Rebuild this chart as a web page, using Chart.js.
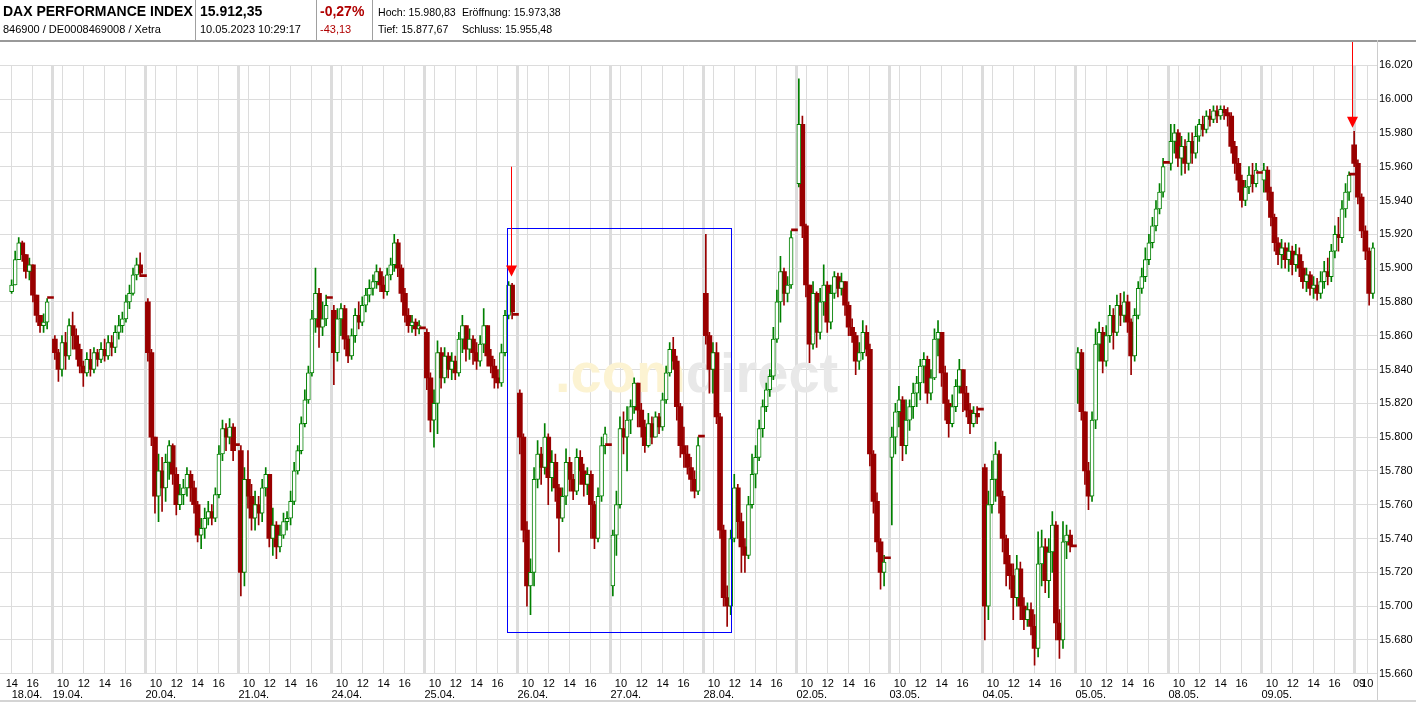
<!DOCTYPE html>
<html><head><meta charset="utf-8">
<script src="https://cdn.jsdelivr.net/npm/chart.js@4.4.0/dist/chart.umd.min.js"></script>
<style>
html,body{margin:0;padding:0;background:#fff;}
body{width:1416px;height:703px;position:relative;overflow:hidden;font-family:'Liberation Sans',Arial,sans-serif;}
#wrap{position:absolute;left:0;top:0;width:1416px;height:703px;}
.h{position:absolute;white-space:nowrap;color:#000;line-height:normal;}
.b{font-weight:bold;font-size:14px;}
.s{font-size:11px;}
.t{font-size:10.6px;}
.red{color:#b00000;}
.sep{position:absolute;top:0;width:1px;height:40px;background:#a0a0a0;}
</style></head><body>
<div id="wrap"><canvas id="c" width="1416" height="703"></canvas></div>
<div class="h b" style="left:3px;top:2.6px">DAX PERFORMANCE INDEX</div>
<div class="h s" style="left:3px;top:22.5px">846900 / DE0008469008 / Xetra</div>
<div class="sep" style="left:195px"></div>
<div class="h b" style="left:200px;top:2.6px">15.912,35</div>
<div class="h s" style="left:200px;top:22.5px">10.05.2023 10:29:17</div>
<div class="sep" style="left:316px"></div>
<div class="h b red" style="left:320px;top:2.6px">-0,27%</div>
<div class="h s red" style="left:320px;top:22.5px">-43,13</div>
<div class="sep" style="left:372px"></div>
<div class="h t" style="left:378px;top:5.6px">Hoch: 15.980,83</div>
<div class="h t" style="left:462px;top:5.6px">Eröffnung: 15.973,38</div>
<div class="h t" style="left:378px;top:22.8px">Tief: 15.877,67</div>
<div class="h t" style="left:462px;top:22.8px">Schluss: 15.955,48</div>
<script>
// ---------------- DATA ----------------
const dayLabels = ['18.04.','19.04.','20.04.','21.04.','24.04.','25.04.','26.04.','27.04.','28.04.','02.05.','03.05.','04.05.','05.05.','08.05.','09.05.','10.05.'];
const dayOpens  = [15886,15858,15880,15792,15875,15862,15826,15712,15885,15950,15788,15782,15840,15962,15952,15973];
const auctions  = [15882,15895,15795,15882,15864,15872,15795,15800,15922,15728,15816,15735,15962,15956,15955,null];
const firstSlot = [14,0,0,0,0,0,0,0,0,0,0,0,0,0,0,0];
const lastDayTimes = [9.12,9.37,9.62,9.87,10.12,10.37];

const closes = [
 [15890,15905,15915,15908,15898,15902,15884,15872,15866,15868,15880],
 [15850,15840,15856,15848,15866,15860,15852,15842,15838,15846,15840,15850,15846,15852,15848,15856,15853,15862,15866,15870,15880,15885,15896,15902,15897],
 [15850,15800,15765,15780,15770,15785,15795,15778,15760,15766,15770,15778,15770,15760,15742,15746,15752,15756,15752,15766,15790,15805,15800,15806,15792],
 [15720,15775,15765,15752,15760,15755,15770,15778,15740,15748,15735,15742,15750,15752,15762,15780,15792,15808,15822,15838,15870,15885,15865,15870,15878],
 [15850,15870,15876,15858,15848,15860,15872,15868,15878,15884,15888,15892,15898,15890,15886,15896,15902,15915,15900,15885,15872,15866,15868,15864,15866],
 [15835,15810,15820,15850,15835,15848,15840,15845,15838,15858,15866,15852,15858,15850,15845,15855,15866,15848,15842,15835,15832,15850,15872,15890,15874],
 [15800,15745,15712,15720,15775,15790,15782,15800,15776,15785,15770,15752,15765,15785,15775,15768,15788,15780,15772,15778,15760,15740,15765,15795,15802],
 [15742,15760,15805,15800,15810,15818,15832,15816,15806,15795,15808,15800,15812,15806,15822,15838,15852,15845,15818,15795,15790,15782,15775,15768,15795],
 [15860,15840,15850,15812,15745,15705,15700,15740,15770,15750,15735,15730,15760,15778,15788,15805,15818,15828,15836,15858,15880,15898,15885,15890,15918],
 [15985,15925,15890,15855,15885,15862,15880,15890,15868,15885,15895,15888,15892,15878,15865,15860,15845,15850,15862,15852,15790,15762,15738,15720,15726],
 [15800,15815,15822,15795,15810,15818,15826,15832,15842,15846,15826,15835,15858,15862,15838,15820,15808,15818,15830,15840,15826,15816,15808,15814,15812],
 [15700,15760,15775,15790,15765,15740,15725,15718,15705,15722,15700,15692,15698,15688,15675,15725,15735,15715,15732,15748,15690,15680,15738,15742,15736],
 [15850,15815,15780,15765,15810,15855,15862,15845,15860,15872,15862,15878,15872,15880,15868,15848,15872,15888,15895,15905,15915,15925,15935,15945,15960],
 [15975,15980,15965,15972,15962,15975,15968,15978,15985,15982,15990,15988,15993,15990,15994,15992,15990,15972,15962,15952,15940,15948,15955,15950,15958],
 [15958,15945,15930,15915,15908,15912,15905,15910,15902,15908,15900,15892,15896,15888,15890,15885,15892,15898,15895,15910,15920,15918,15935,15945,15955],
 [15962,15942,15922,15910,15885,15912]
];
const highs = [
 [15893,15910,15918,15916,15906,15906,15895,15880,15872,15873,15882],
 [15860,15852,15860,15862,15870,15874,15864,15855,15845,15850,15852,15853,15852,15856,15858,15860,15860,15866,15872,15874,15884,15890,15900,15906,15909],
 [15882,15852,15800,15790,15788,15790,15798,15796,15782,15772,15775,15782,15780,15774,15762,15752,15758,15762,15760,15770,15795,15810,15808,15811,15808],
 [15795,15782,15792,15772,15768,15765,15775,15782,15778,15758,15750,15748,15755,15756,15768,15785,15795,15812,15828,15842,15875,15900,15888,15880,15884],
 [15878,15876,15879,15878,15860,15864,15876,15880,15883,15888,15893,15896,15902,15900,15895,15900,15906,15920,15917,15902,15888,15876,15872,15870,15869],
 [15864,15838,15828,15857,15853,15853,15850,15850,15848,15862,15872,15866,15864,15860,15856,15860,15876,15866,15852,15846,15840,15855,15875,15892,15891],
 [15828,15802,15750,15728,15782,15798,15794,15808,15802,15792,15790,15772,15770,15793,15788,15778,15793,15792,15784,15782,15780,15762,15770,15800,15806],
 [15745,15768,15812,15815,15818,15822,15835,15832,15820,15810,15814,15812,15815,15814,15826,15842,15856,15859,15848,15820,15806,15795,15788,15780,15800],
 [15920,15862,15856,15856,15814,15748,15712,15745,15778,15772,15755,15740,15765,15790,15795,15810,15822,15832,15840,15865,15887,15907,15900,15895,15922],
 [16012,15990,15926,15890,15892,15886,15888,15902,15892,15890,15898,15897,15897,15892,15880,15870,15862,15856,15869,15866,15855,15792,15767,15740,15730],
 [15806,15820,15830,15824,15822,15822,15832,15836,15846,15850,15848,15840,15864,15869,15862,15842,15822,15825,15834,15846,15840,15830,15820,15818,15818],
 [15784,15768,15786,15797,15792,15768,15742,15730,15725,15730,15726,15705,15702,15702,15695,15744,15745,15740,15740,15756,15750,15698,15750,15748,15745],
 [15853,15852,15815,15785,15815,15864,15868,15865,15866,15878,15876,15884,15885,15886,15884,15870,15876,15892,15900,15912,15920,15930,15940,15950,15965],
 [15985,15985,15982,15978,15976,15980,15980,15984,15988,15990,15993,15994,15996,15996,15996,15996,15995,15992,15975,15965,15955,15952,15960,15962,15962],
 [15962,15960,15948,15932,15918,15917,15915,15915,15913,15914,15912,15904,15900,15898,15895,15894,15898,15904,15906,15914,15925,15930,15940,15950,15957],
 [15981,15964,15944,15925,15912,15915]
];
const lows = [
 [15885,15890,15905,15904,15894,15893,15880,15868,15862,15862,15864],
 [15846,15833,15836,15840,15846,15852,15846,15838,15830,15836,15836,15838,15842,15844,15845,15846,15848,15850,15858,15862,15868,15876,15884,15893,15895],
 [15845,15795,15755,15750,15756,15762,15775,15772,15754,15757,15760,15765,15762,15755,15738,15734,15740,15748,15748,15750,15764,15786,15792,15796,15786],
 [15706,15712,15758,15745,15745,15748,15750,15765,15735,15730,15728,15732,15740,15745,15748,15760,15778,15790,15806,15820,15836,15862,15853,15860,15866],
 [15831,15845,15860,15852,15844,15846,15856,15864,15866,15874,15880,15884,15888,15886,15882,15884,15893,15898,15895,15880,15868,15862,15862,15860,15861],
 [15828,15803,15794,15802,15829,15832,15835,15834,15834,15836,15850,15845,15846,15843,15840,15842,15850,15842,15838,15829,15829,15830,15848,15870,15870],
 [15790,15738,15700,15695,15712,15770,15772,15778,15760,15768,15762,15732,15750,15760,15768,15763,15766,15772,15765,15766,15740,15734,15738,15762,15790],
 [15706,15730,15758,15790,15780,15802,15814,15806,15800,15791,15794,15796,15800,15802,15804,15820,15836,15840,15810,15788,15782,15778,15768,15764,15766],
 [15855,15826,15826,15808,15740,15700,15688,15695,15738,15740,15720,15720,15728,15758,15770,15786,15800,15815,15824,15834,15856,15868,15878,15880,15888],
 [15948,15918,15883,15844,15852,15853,15858,15872,15862,15864,15882,15883,15884,15872,15860,15856,15837,15840,15846,15848,15783,15755,15732,15710,15712],
 [15748,15790,15806,15786,15790,15804,15811,15818,15822,15832,15820,15822,15834,15848,15830,15810,15800,15806,15815,15826,15815,15812,15802,15806,15808],
 [15680,15692,15755,15762,15755,15732,15712,15710,15692,15700,15692,15686,15688,15683,15665,15670,15712,15708,15705,15720,15680,15669,15675,15728,15732],
 [15820,15810,15772,15757,15762,15805,15845,15838,15842,15856,15852,15860,15866,15868,15862,15837,15845,15870,15885,15892,15902,15912,15922,15932,15942],
 [15958,15968,15960,15955,15956,15958,15962,15965,15975,15978,15980,15984,15986,15986,15988,15988,15984,15968,15956,15945,15936,15937,15944,15945,15948],
 [15945,15940,15925,15910,15902,15900,15900,15898,15896,15898,15895,15888,15886,15884,15882,15881,15882,15888,15890,15892,15906,15910,15915,15930,15940],
 [15960,15938,15918,15905,15878,15882]
];
const hourMarks = [10,12,14,16];
const yTicksRange = [15660, 16020, 20];
// annotations (time / price coordinates)
const boxFrom = [5, 16.87], boxTo = [8, 11.66], boxPrice = [15924, 15684.5];
const arrow1 = [5, 17.31, 15960, 15895];   // day, hour, tail price, tip price
const arrow2 = [15, 9.0, 16035, 15983];

// ---------------- AXIS MAPPING (time -> axis units) ----------------
const DAY = 8.9, SLOT = 0.34, SLOT0 = 0.057, AUCTION_H = 17.71;
const LAST = 15, LAST_X0 = 133.3, LAST_SCALE = 1.435;
const X_MIN = 3.8757, X_MAX = 135.659;
function xAt(d, hour){ return d === LAST ? LAST_X0 + (hour-9)*LAST_SCALE : d*DAY + (hour-9); }

const wickRed=[], wickGreen=[], bodyRed=[], bodyGreen=[], auctionBars=[];
for (let d=0; d<dayLabels.length; d++){
  const cs=closes[d], hs=highs[d], ls=lows[d];
  let prev = dayOpens[d];
  for (let k=0;k<cs.length;k++){
    const slot = firstSlot[d]+k;
    const x = d===LAST ? xAt(d, lastDayTimes[k]) : xAt(d, 9+SLOT0+(slot+0.5)*SLOT);
    const o=prev, c=cs[k];
    const up = c>=o;
    const hi=Math.max(hs[k],o,c), lo=Math.min(ls[k],o,c);
    (up?wickGreen:wickRed).push({x, y:[lo,hi]});
    (up?bodyGreen:bodyRed).push({x, y:[Math.min(o,c),Math.max(o,c)]});
    prev=c;
  }
  if (auctions[d]!=null) auctionBars.push({x:xAt(d,AUCTION_H), y:[auctions[d],auctions[d]]});
}

// hour axis ticks
const hourTicks=[];
for (let d=0; d<LAST; d++){
  if (d>0) hourTicks.push({x:d*DAY,label:'',kind:'day'});
  for (const h of hourMarks){ const x=xAt(d,h); if (x>=X_MIN) hourTicks.push({x,label:String(h),kind:'hour'}); }
}
hourTicks.push({x:LAST*DAY,label:'',kind:'day'});
hourTicks.push({x:xAt(LAST,9.45),label:'09',kind:'label'});
hourTicks.push({x:xAt(LAST,10),label:'10',kind:'hour'});
// date axis ticks
const dateTicks=[{x:xAt(0,14),label:dayLabels[0]}];
for (let d=1; d<LAST; d++) dateTicks.push({x:d*DAY,label:dayLabels[d]});

const FONT = "'Liberation Sans', Arial, sans-serif";
const fmt = v => String(v).replace(/\B(?=(\d{3})+(?!\d))/g,'.');

const decor = {
  id:'decor',
  beforeDatasetsDraw(chart){
    const ctx=chart.ctx; ctx.save();
    ctx.font="bold 56px "+FONT; ctx.textBaseline='alphabetic';
    ctx.fillStyle='#fcf3d2'; ctx.fillText('.com',555,392);
    const w=ctx.measureText('.com').width;
    ctx.fillStyle='#e8e8e8'; ctx.fillText('direct',555+w,392);
    ctx.restore();
  },
  afterDatasetsDraw(chart){
    const ctx=chart.ctx, xs=chart.scales.x, ys=chart.scales.y;
    ctx.save();
    const x1=Math.round(xs.getPixelForValue(xAt(boxFrom[0],boxFrom[1])))+0.5;
    const x2=Math.round(xs.getPixelForValue(xAt(boxTo[0],boxTo[1])))+0.5;
    const y1=Math.round(ys.getPixelForValue(boxPrice[0]))+0.5;
    const y2=Math.round(ys.getPixelForValue(boxPrice[1]))+0.5;
    ctx.strokeStyle='#0000ff'; ctx.lineWidth=1; ctx.strokeRect(x1,y1,x2-x1,y2-y1);
    for (const a of [arrow1,arrow2]){
      const x=Math.round(xs.getPixelForValue(xAt(a[0],a[1])))+0.5;
      const yt=Math.max(ys.getPixelForValue(a[2]),40);
      const yp=ys.getPixelForValue(a[3]);
      ctx.strokeStyle='#ff0000'; ctx.lineWidth=1;
      ctx.beginPath(); ctx.moveTo(x,yt); ctx.lineTo(x,yp-10); ctx.stroke();
      ctx.fillStyle='#ff0000'; ctx.beginPath();
      ctx.moveTo(x-5.5,yp-11); ctx.lineTo(x+5.5,yp-11); ctx.lineTo(x,yp); ctx.closePath(); ctx.fill();
    }
    ctx.restore();
  },
  afterDraw(chart){
    const ctx=chart.ctx, a=chart.chartArea; ctx.save();
    ctx.fillStyle='#999999'; ctx.fillRect(0,40,1416,2);
    ctx.fillStyle='#cccccc'; ctx.fillRect(Math.round(a.right),40,1,661);
    ctx.fillStyle='#d4d4d4'; ctx.fillRect(0,700,1416,2);
    ctx.restore();
  }
};

const common = {xAxisID:'x', yAxisID:'y', grouped:false, borderSkipped:false};
new Chart(document.getElementById('c'), {
  type:'bar',
  data:{datasets:[
    {...common, label:'wickR', data:wickRed, backgroundColor:'#990000', barThickness:1, order:3},
    {...common, label:'wickG', data:wickGreen, backgroundColor:'#008000', barThickness:1, order:3},
    {...common, label:'bodyG', data:bodyGreen, backgroundColor:'#ffffff', borderColor:'#008000', borderWidth:1, barThickness:4, minBarLength:2, order:2},
    {...common, label:'bodyR', data:bodyRed, backgroundColor:'#990000', barThickness:5, minBarLength:1, order:2},
    {...common, label:'auction', data:auctionBars, backgroundColor:'#990000', barThickness:6, minBarLength:2, order:1}
  ]},
  options:{
    responsive:false, animation:false, events:[],
    layout:{padding:{left:0,top:65.3,right:0,bottom:2}},
    plugins:{legend:{display:false}, tooltip:{enabled:false}},
    scales:{
      x:{type:'linear', min:X_MIN, max:X_MAX, offset:false, position:'bottom', weight:0,
        grid:{offset:false, drawTicks:false,
          color:c=>{const t=hourTicks[c.index]; return !t||t.kind==='label'?'rgba(0,0,0,0)':'#dcdcdc';},
          lineWidth:c=>{const t=hourTicks[c.index]; return !t||t.kind==='label'?0:(t.kind==='day'?3:1);} },
        border:{display:false},
        afterBuildTicks:s=>{ s.ticks=hourTicks.map(t=>({value:t.x})); },
        afterFit:s=>{ s.height=14; },
        ticks:{autoSkip:false, maxRotation:0, minRotation:0, padding:4, color:'#000',
          font:{family:FONT,size:11}, callback:(v,i)=>hourTicks[i]?hourTicks[i].label:''}
      },
      xDate:{type:'linear', min:X_MIN, max:X_MAX, offset:false, position:'bottom', weight:1,
        grid:{display:false, drawTicks:false}, border:{display:false},
        afterBuildTicks:s=>{ s.ticks=dateTicks.map(t=>({value:t.x})); },
        afterFit:s=>{ s.height=13.3; },
        ticks:{autoSkip:false, maxRotation:0, minRotation:0, padding:1, align:'start', color:'#000',
          font:{family:FONT,size:11}, callback:(v,i)=>dateTicks[i]?dateTicks[i].label:''}
      },
      y:{type:'linear', position:'right', min:yTicksRange[0], max:yTicksRange[1], beginAtZero:false,
        grid:{color:'#dcdcdc', drawTicks:false}, border:{display:false},
        afterFit:s=>{ s.width=39; },
        ticks:{stepSize:yTicksRange[2], padding:2, color:'#000', font:{family:FONT,size:11}, callback:v=>fmt(v)}
      }
    }
  },
  plugins:[decor]
});
</script>
</body></html>
